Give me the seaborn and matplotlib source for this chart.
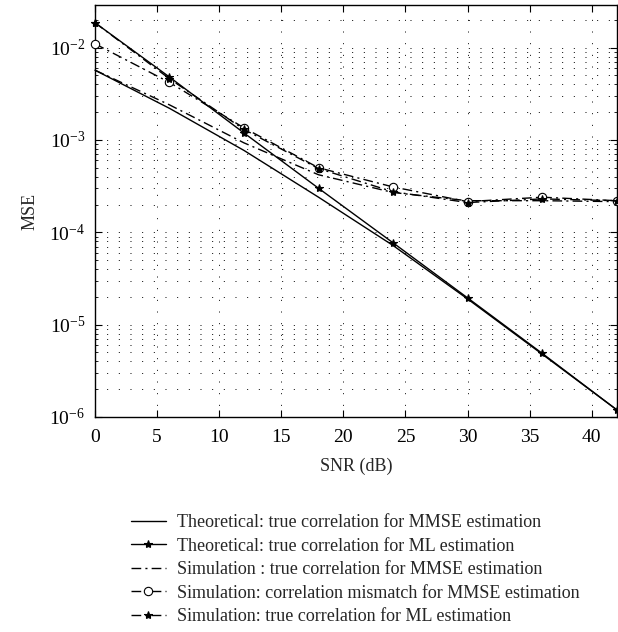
import numpy as np
import pandas as pd
import matplotlib
matplotlib.use('Agg')
import matplotlib.pyplot as plt
import seaborn as sns
from matplotlib.ticker import LogLocator, NullFormatter

# --- data ---
snr = [0, 6, 12, 18, 24, 30, 36, 42]
theo_mmse = [5.7e-3, 2.2e-3, 7.7e-4, 2.4e-4, 7.2e-5, 1.9e-5, 4.8e-6, 1.2e-6]
theo_ml = [1.86e-2, 4.8e-3, 1.19e-3, 3.0e-4, 7.7e-5, 1.95e-5, 4.9e-6, 1.2e-6]
sim_mmse = [5.7e-3, 2.4e-3, 9.3e-4, 4.2e-4, 2.7e-4, 2.2e-4, 2.2e-4, 2.15e-4]
sim_mismatch = [1.1e-2, 4.2e-3, 1.35e-3, 5.0e-4, 3.1e-4, 2.15e-4, 2.4e-4, 2.2e-4]
sim_ml = [1.86e-2, 4.6e-3, 1.3e-3, 4.9e-4, 2.75e-4, 2.1e-4, 2.3e-4, 2.2e-4]

labels = ['Theoretical: true correlation for MMSE estimation',
          'Theoretical: true correlation for ML estimation',
          'Simulation : true correlation for MMSE estimation',
          'Simulation: correlation mismatch for MMSE estimation',
          'Simulation: true correlation for ML estimation']

sns.set_style('ticks')
plt.rcParams['font.family'] = ['Liberation Serif', 'DejaVu Serif']
plt.rcParams['mathtext.fontset'] = 'stix'

fig = plt.figure(figsize=(6.18, 6.32), dpi=100)
ax = fig.add_axes([0.1537, 0.3402, 0.844, 0.652])

dashdot = (0, (7, 3, 1.5, 3))
series = [
    (theo_mmse, '-', None, 'k'),
    (theo_ml, '-', '*', 'k'),
    (sim_mmse, dashdot, None, 'k'),
    (sim_mismatch, dashdot, 'o', 'white'),
    (sim_ml, dashdot, '*', 'k'),
]
for (vals, ls, mk, fc), lab in zip(series, labels):
    df = pd.DataFrame({'SNR': snr, 'MSE': vals})
    sns.lineplot(data=df, x='SNR', y='MSE', ax=ax, color='k', lw=1.0,
                 linestyle=ls, marker=mk, markersize=6,
                 markerfacecolor=fc, markeredgecolor='k', markeredgewidth=0.8,
                 label=lab, legend=False, clip_on=False, zorder=3)

ax.set_yscale('log')
ax.set_xlim(0, 42)
ax.set_ylim(1e-6, 2.9e-2)
ax.set_xticks([0, 5, 10, 15, 20, 25, 30, 35, 40])
ax.yaxis.set_major_locator(LogLocator(base=10, numticks=10))
ax.yaxis.set_minor_locator(LogLocator(base=10, subs=np.arange(2, 10), numticks=20))
ax.yaxis.set_minor_formatter(NullFormatter())

grid_ls = (0, (1, 11))
ax.grid(True, which='major', axis='both', color='k', linestyle=grid_ls, lw=0.7)
ax.grid(True, which='minor', axis='y', color='k', linestyle=grid_ls, lw=0.7)
ax.tick_params(axis='both', which='both', direction='in', top=True, right=True,
               labelsize=14, colors='k')
ax.tick_params(axis='x', pad=9)
ax.tick_params(axis='y', pad=7)
ax.tick_params(which='major', length=5)
ax.tick_params(which='minor', length=2.5)
for s in ax.spines.values():
    s.set_visible(True)
    s.set_color('k')
    s.set_linewidth(1.0)

ax.set_xlabel('SNR (dB)', fontsize=13, labelpad=8)
ax.set_ylabel('MSE', fontsize=13, labelpad=8)

handles, labs = ax.get_legend_handles_labels()
fig.legend(handles, labs, loc='upper left', bbox_to_anchor=(0.185, 0.212),
           frameon=False, fontsize=13, handlelength=1.95, handletextpad=0.6,
           labelspacing=0.36)

fig.savefig('out.png', dpi=100)
